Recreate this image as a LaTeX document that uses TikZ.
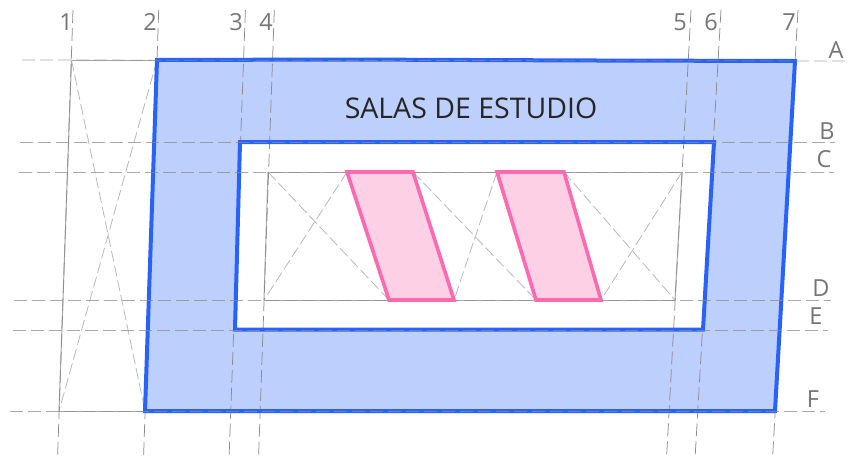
\documentclass[tikz,border=0pt]{standalone}
\usepackage{fontspec}
\setmainfont{Open Sans}
\definecolor{gridc}{HTML}{8C8C8C}
\definecolor{diagc}{HTML}{B8B8B8}
\definecolor{solidc}{HTML}{A8A8A8}
\definecolor{bluefill}{HTML}{BCCFFD}
\definecolor{blueline}{HTML}{2962FA}
\definecolor{pinkfill}{HTML}{FDD0E6}
\definecolor{pinkline}{HTML}{FF69B0}
\definecolor{labelc}{HTML}{757575}
\tikzset{
 gridline/.style={draw=gridc,line width=0.75pt,dash pattern=on 13pt off 5pt},
 diagline/.style={draw=diagc,line width=0.8pt,dash pattern=on 11pt off 4pt},
 solidline/.style={draw=solidc,line width=1pt},
 zonefill/.style={fill=bluefill,even odd rule},
 zoneedge/.style={draw=blueline,line width=4pt,line join=miter},
 core/.style={fill=pinkfill,draw=pinkline,line width=3.6pt,line join=miter},
 axislabel/.style={text=labelc,font=\fontsize{23.5}{24}\selectfont,inner sep=0pt,anchor=center},
 titlelabel/.style={text=black!85,font=\fontsize{28.5}{29}\selectfont,inner sep=0pt,anchor=center}
}
\begin{document}
\begin{tikzpicture}[x=1pt,y=-1pt]
\useasboundingbox (0,0) rectangle (854,459);
% outer corners of the grid
\coordinate (a1) at (71.5,60); \coordinate (a2) at (157,60); \coordinate (a7) at (795,61);
\coordinate (f1) at (59,411); \coordinate (f2) at (145,411); \coordinate (f7) at (775,411);
\coordinate (b3) at (240,142); \coordinate (b6) at (714,142);
\coordinate (e3) at (235,329.5); \coordinate (e6) at (703,329.5);
\coordinate (c4) at (268,172); \coordinate (c5) at (682,172);
\coordinate (d4) at (264,300); \coordinate (d5) at (675,300);
\coordinate (p1) at (347,172); \coordinate (p2) at (413,172); \coordinate (p3) at (454,300); \coordinate (p4) at (389,300);
\coordinate (q1) at (497,172); \coordinate (q2) at (564,172); \coordinate (q3) at (601,300); \coordinate (q4) at (536,300);
% blue ring fill
\path[zonefill] (a2) -- (344,59.5) -- (598,60.5) -- (a7) -- (f7) -- (f2) -- cycle (b3) -- (b6) -- (e6) -- (e3) -- cycle;
% solid grey lines
\draw[solidline] (a1) -- (a2);
\draw[solidline] (f1) -- (f2);
\draw[solidline] (a1) -- (f1);
\draw[solidline] (c4) -- (c5);
\draw[solidline] (d4) -- (d5);
\draw[solidline] (c4) -- (d4);
\draw[solidline] (c5) -- (d5);
% diagonals
\draw[diagline] (a1) -- (f2);
\draw[diagline] (a2) -- (f1);
\draw[diagline] (c4) -- (p4);
\draw[diagline] (p1) -- (d4);
\draw[diagline] (p2) -- (q4);
\draw[diagline] (q1) -- (p3);
\draw[diagline] (q2) -- (d5);
\draw[diagline] (c5) -- (q3);
% vertical axes
\coordinate (v11) at (73,10); \coordinate (v12) at (57.5,459);
\coordinate (v21) at (158.7,10); \coordinate (v22) at (143.5,459);
\coordinate (v31) at (245.4,10); \coordinate (v32) at (229,459);
\coordinate (v41) at (274.3,10); \coordinate (v42) at (258.5,459);
\coordinate (v51) at (691,10); \coordinate (v52) at (666.5,459);
\coordinate (v61) at (721,10); \coordinate (v62) at (695,459);
\coordinate (v71) at (798,10); \coordinate (v72) at (772.5,459);
\foreach \n in {1,...,7} \draw[gridline] (v\n1) -- (v\n2);
% blue ring edges
\path[zoneedge] (a2) -- (344,59.5) -- (598,60.5) -- (a7) -- (f7) -- (f2) -- cycle (b3) -- (b6) -- (e6) -- (e3) -- cycle;
% horizontal axes
\coordinate (hA1) at (22,60); \coordinate (hA2) at (845,61);
\coordinate (hB1) at (20,142); \coordinate (hB2) at (835,142);
\coordinate (hC1) at (19,172); \coordinate (hC2) at (834,172);
\coordinate (hD1) at (14,300); \coordinate (hD2) at (831,300);
\coordinate (hE1) at (13,330); \coordinate (hE2) at (828,330);
\coordinate (hF1) at (10,411); \coordinate (hF2) at (825,411);
\foreach \n in {A,B,C,D,E,F} \draw[gridline,draw opacity=.75] (h\n1) -- (h\n2);
% pink shapes
\path[core] (p1) -- (p2) -- (p3) -- (p4) -- cycle;
\path[core] (q1) -- (q2) -- (q3) -- (q4) -- cycle;
% labels
\node[titlelabel] (title) at (471,108) {SALAS DE ESTUDIO};
\node[axislabel] (n1) at (66,22) {1};
\node[axislabel] (n2) at (150,22) {2};
\node[axislabel] (n3) at (236,22) {3};
\node[axislabel] (n4) at (266,22) {4};
\node[axislabel] (n5) at (680,22) {5};
\node[axislabel] (n6) at (711,22) {6};
\node[axislabel] (n7) at (789,22) {7};
\node[axislabel] (lA) at (836,50) {A};
\node[axislabel] (lB) at (827,131) {B};
\node[axislabel] (lC) at (824,159) {C};
\node[axislabel] (lD) at (821,288) {D};
\node[axislabel] (lE) at (816,316) {E};
\node[axislabel] (lF) at (813,399) {F};
\end{tikzpicture}
\end{document}
